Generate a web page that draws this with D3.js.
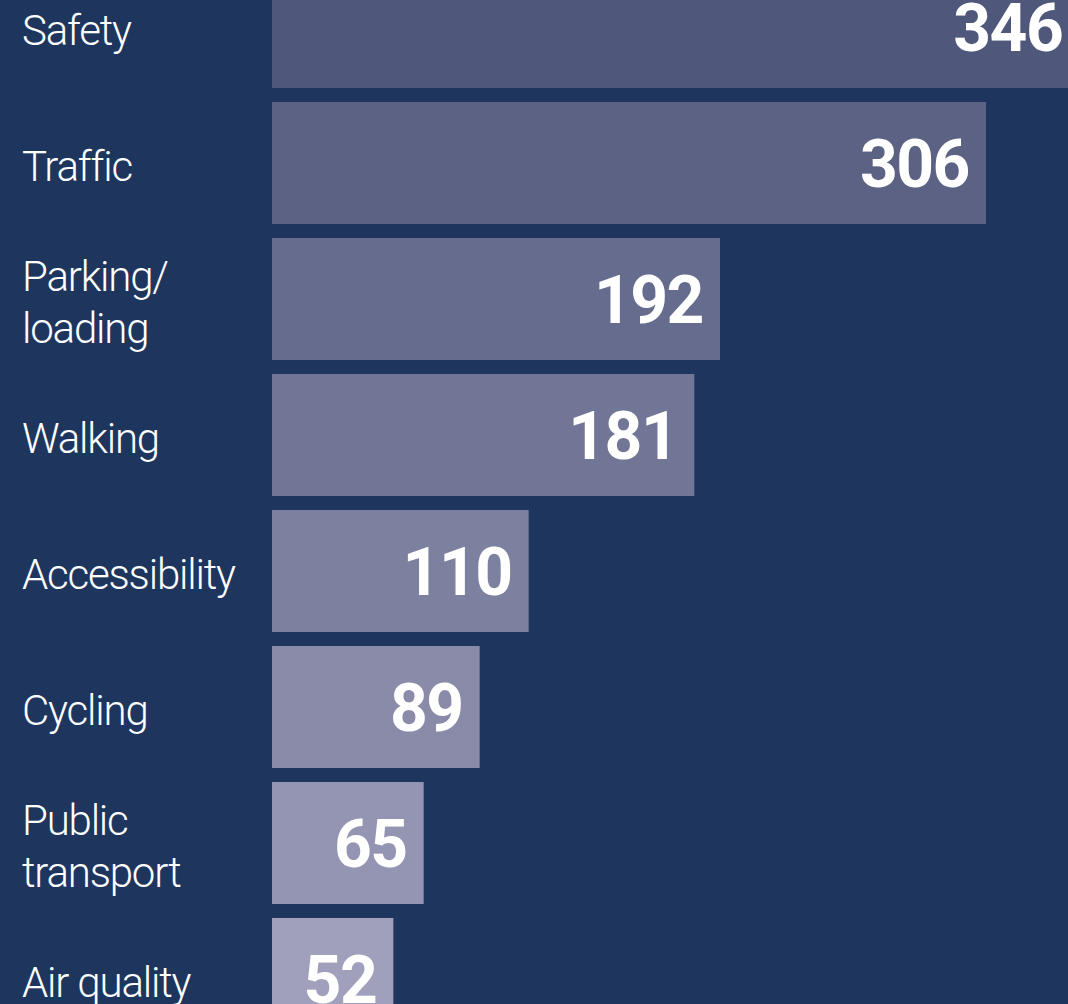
<!DOCTYPE html>
<html>
<head>
<meta charset="utf-8">
<style>
  html, body { margin: 0; padding: 0; background: #1e365e; overflow: hidden; }
  svg { display: block; }
</style>
</head>
<body>
<script src="https://d3js.org/d3.v7.js"></script>
<script>
const categories = ['Safety', 'Traffic', 'Parking/\nloading', 'Walking', 'Accessibility', 'Cycling', 'Public\ntransport', 'Air quality']
const values = [346, 306, 192, 181, 110, 89, 65, 52]

const w = 1068
const h = 1004
const left = 272

const xScale = d3.scaleLinear()
                 .domain([0, 360])
                 .range([left, left + 840])

const yScale = d3.scaleBand()
                 .domain(categories)
                 .range([-41, 1047])
                 .paddingInner(0.103)
                 .paddingOuter(0.0515)

const colour = d3.scaleLinear()
                 .domain([0, categories.length - 1])
                 .range(['#4f587a', '#a09fbc'])

const svg = d3.select('body')
              .append('svg')
              .attr('width', w)
              .attr('height', h)

svg.append('rect')
   .attr('width', w)
   .attr('height', h)
   .attr('fill', '#1e365e')

const rows = svg.selectAll('g.row')
                .data(categories)
                .enter()
                .append('g')
                .attr('class', 'row')

rows.append('rect')
    .attr('x', xScale(0))
    .attr('y', d => yScale(d))
    .attr('width', (d, i) => xScale(values[i]) - xScale(0))
    .attr('height', yScale.bandwidth())
    .attr('fill', (d, i) => colour(i))

// value labels, right aligned inside the bar
rows.append('text')
    .attr('x', (d, i) => xScale(values[i]) - 17)
    .attr('y', d => yScale(d) + yScale.bandwidth() / 2 + 24)
    .attr('text-anchor', 'end')
    .attr('fill', '#fff')
    .style('font-family', 'Roboto, sans-serif')
    .style('font-weight', 700)
    .style('font-size', '66px')
    .style('letter-spacing', '-1.5px')
    .text((d, i) => values[i])

// category labels, one or two lines
rows.append('text')
    .attr('x', 22)
    .attr('fill', '#fff')
    .style('font-family', 'Roboto, sans-serif')
    .style('font-weight', 300)
    .style('font-size', '42px')
    .style('letter-spacing', '-1.2px')
    .each(function (d) {
        const lines = d.split('\n')
        const mid = yScale(d) + yScale.bandwidth() / 2
        const first = mid + 18 - (lines.length - 1) * 26
        d3.select(this).selectAll('tspan')
          .data(lines)
          .enter()
          .append('tspan')
          .attr('x', 22)
          .attr('y', (l, j) => first + j * 52)
          .text(l => l)
    })
</script>
</body>
</html>
